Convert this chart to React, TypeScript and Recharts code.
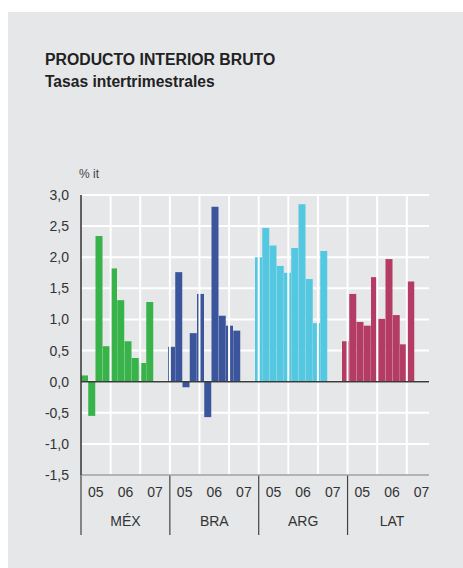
import { BarChart, Bar, Cell, XAxis, YAxis, CartesianGrid, ReferenceLine } from 'recharts';

const groups = ['MÉX', 'BRA', 'ARG', 'LAT'];
const years = ['05', '06', '07'];
const groupColors = ['#37b34a', '#3a559b', '#55c8e1', '#b43b63'];

// 05T1..07T2 por país (10 trimestres)
const mexValues = [0.1, -0.55, 2.34, 0.57, 1.82, 1.31, 0.65, 0.38, 0.3, 1.28];
const braValues = [0.56, 1.76, -0.09, 0.78, 1.41, -0.57, 2.81, 1.06, 0.9, 0.82];
const argValues = [2.0, 2.47, 2.19, 1.86, 1.75, 2.15, 2.85, 1.65, 0.94, 2.1];
const latValues = [0.65, 1.41, 0.96, 0.9, 1.68, 1.01, 1.97, 1.07, 0.6, 1.61];

const yTicks = [-1.5, -1, -0.5, 0, 0.5, 1, 1.5, 2, 2.5, 3];

const SLOTS_PER_YEAR = 4;
const SLOTS_PER_GROUP = years.length * SLOTS_PER_YEAR;
const TOTAL_SLOTS = groups.length * SLOTS_PER_GROUP;

const data = [mexValues, braValues, argValues, latValues].flatMap((vals, g) =>
  Array.from({ length: SLOTS_PER_GROUP }, (_, i) => ({
    slot: `${groups[g]}-${i}`,
    group: g,
    value: i < vals.length ? vals[i] : null,
  }))
);

const yearTicks = Array.from({ length: groups.length * years.length }, (_, i) => i * SLOTS_PER_YEAR + SLOTS_PER_YEAR / 2);
const groupTicks = groups.map((_, i) => i * SLOTS_PER_GROUP + SLOTS_PER_GROUP / 2);
const sepTicks = Array.from({ length: groups.length + 1 }, (_, i) => i * SLOTS_PER_GROUP);
const yearLines = Array.from({ length: groups.length * years.length }, (_, i) => (i + 1) * SLOTS_PER_YEAR);

const font = '"Liberation Sans", Arial, sans-serif';

// línea separadora de países bajo el eje
const SepTick = (props: any) => {
  const { x, y } = props;
  return <line x1={x} x2={x} y1={y} y2={y + 60} stroke="#444" strokeWidth={1.2} />;
};

export default function App() {
  return (
    <div
      style={{
        position: 'absolute',
        left: 8,
        top: 12,
        width: 455,
        height: 556,
        background: '#e6e7e9',
        fontFamily: font,
        color: '#222',
      }}
    >
      <div style={{ position: 'absolute', left: 37, top: 38, fontSize: 15.8, fontWeight: 'bold', lineHeight: '20px' }}>
        PRODUCTO INTERIOR BRUTO
      </div>
      <div style={{ position: 'absolute', left: 37, top: 60, fontSize: 15.6, fontWeight: 'bold', lineHeight: '20px' }}>
        Tasas intertrimestrales
      </div>
      <div style={{ position: 'absolute', left: 71, top: 155, fontSize: 12, color: '#444' }}>% it</div>
      <div style={{ position: 'absolute', left: 0, top: 148 }}>
        <BarChart
          width={448}
          height={390}
          data={data}
          margin={{ top: 35, right: 27, bottom: 15, left: 23 }}
          barCategoryGap={0}
          barGap={0}
        >
          <CartesianGrid vertical={false} stroke="#ffffff" strokeWidth={2} />
          <XAxis xAxisId="a0" dataKey="slot" hide height={0} />
          <XAxis
            xAxisId="a1"
            type="number"
            domain={[0, TOTAL_SLOTS]}
            ticks={yearTicks}
            tickFormatter={(v: number) => years[Math.floor(v / SLOTS_PER_YEAR) % years.length]}
            axisLine={{ stroke: '#9a9a9a', strokeWidth: 1.5 }}
            tickLine={false}
            tickSize={0}
            tickMargin={12}
            tick={{ fill: '#333', fontSize: 14, fontFamily: font }}
            height={28}
          />
          <XAxis
            xAxisId="a2"
            type="number"
            domain={[0, TOTAL_SLOTS]}
            ticks={groupTicks}
            tickFormatter={(v: number) => groups[Math.floor(v / SLOTS_PER_GROUP)]}
            axisLine={false}
            tickLine={false}
            tickSize={0}
            tickMargin={13}
            tick={{ fill: '#333', fontSize: 14, fontFamily: font }}
            height={32}
          />
          <YAxis
            domain={[-1.5, 3]}
            ticks={yTicks}
            interval={0}
            tickFormatter={(v: number) => v.toFixed(1).replace('.', ',')}
            axisLine={{ stroke: '#333', strokeWidth: 1.5 }}
            tickLine={false}
            tickMargin={6}
            tick={{ fill: '#333', fontSize: 14, fontFamily: font }}
            width={50}
          />
          <Bar xAxisId="a0" dataKey="value" isAnimationActive={false}>
            {data.map((d) => (
              <Cell key={d.slot} fill={groupColors[d.group]} />
            ))}
          </Bar>
          {yearLines.map((x) => (
            <ReferenceLine key={x} xAxisId="a1" x={x} stroke="#ffffff" strokeWidth={2} />
          ))}
          {sepTicks.map((x) => (
            <ReferenceLine
              key={`s${x}`}
              xAxisId="a1"
              x={x}
              stroke="none"
              label={(p: any) => <SepTick x={p.viewBox.x} y={p.viewBox.y + p.viewBox.height} />}
            />
          ))}
          <ReferenceLine xAxisId="a0" y={0} stroke="#3a3a3a" strokeWidth={1.5} />
        </BarChart>
      </div>
    </div>
  );
}
